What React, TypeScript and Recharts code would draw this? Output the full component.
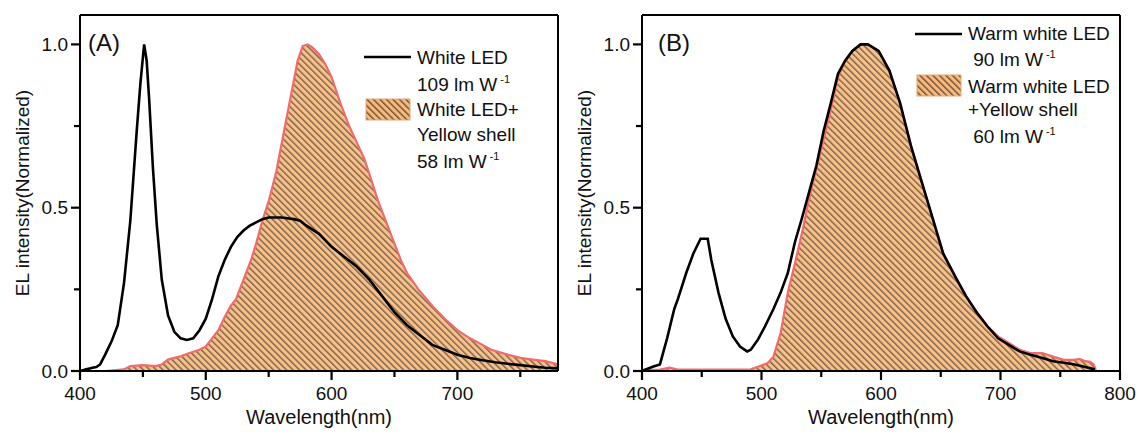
import React from 'react'
import { ComposedChart, Line, Area, XAxis, YAxis, ReferenceLine } from 'recharts'

const FONT = '"Liberation Sans", Arial, Helvetica, sans-serif'

// (A) white LED
const aLedX = [400, 405, 410, 413, 416, 420, 425, 430, 435, 440, 445, 448, 451, 453, 455, 458, 461, 465, 470, 475, 480, 485, 490, 495, 500, 505, 510, 515, 520, 525, 530, 535, 540, 545, 550, 560, 570, 575, 580, 590, 600, 610, 620, 630, 640, 650, 660, 670, 680, 690, 700, 710, 720, 730, 740, 750, 760, 770, 780]
const aLedY = [0, 0.005, 0.01, 0.012, 0.02, 0.05, 0.09, 0.14, 0.27, 0.46, 0.73, 0.88, 1.0, 0.95, 0.83, 0.62, 0.45, 0.28, 0.17, 0.12, 0.1, 0.095, 0.1, 0.125, 0.16, 0.22, 0.29, 0.34, 0.38, 0.41, 0.43, 0.445, 0.455, 0.465, 0.47, 0.47, 0.465, 0.46, 0.445, 0.42, 0.38, 0.35, 0.32, 0.28, 0.23, 0.18, 0.14, 0.11, 0.08, 0.065, 0.05, 0.04, 0.033, 0.027, 0.022, 0.018, 0.014, 0.01, 0.008]
// (A) white LED + yellow shell
const aShellX = [400, 420, 435, 440, 450, 460, 465, 470, 475, 480, 487, 495, 500, 505, 510, 515, 520, 524, 530, 536, 540, 545, 550, 556, 562, 568, 573, 577, 581, 585, 590, 595, 600, 607, 614, 620, 626, 632, 637, 643, 649, 655, 660, 669, 680, 690, 700, 710, 720, 727, 740, 750, 760, 770, 780]
const aShellY = [0, 0, 0.005, 0.015, 0.018, 0.015, 0.02, 0.035, 0.04, 0.045, 0.055, 0.065, 0.075, 0.1, 0.125, 0.165, 0.2, 0.22, 0.28, 0.34, 0.39, 0.46, 0.52, 0.61, 0.73, 0.85, 0.95, 0.995, 1.0, 0.99, 0.97, 0.94, 0.9, 0.82, 0.75, 0.7, 0.65, 0.58, 0.52, 0.46, 0.4, 0.34, 0.3, 0.25, 0.2, 0.16, 0.125, 0.1, 0.08, 0.065, 0.05, 0.04, 0.035, 0.03, 0.02]

// (B) warm white LED
const bLedX = [400, 409, 415, 421, 427, 430, 437, 443, 449, 455, 458, 464, 470, 476, 482, 488, 491, 497, 503, 510, 516, 522, 528, 534, 540, 546, 552, 558, 564, 570, 576, 583, 589, 598, 607, 616, 625, 634, 643, 652, 662, 671, 680, 689, 698, 707, 716, 725, 735, 744, 753, 762, 771, 779]
const bLedY = [0, 0.013, 0.02, 0.1, 0.19, 0.22, 0.3, 0.36, 0.405, 0.405, 0.34, 0.24, 0.16, 0.106, 0.075, 0.06, 0.065, 0.096, 0.137, 0.19, 0.24, 0.3, 0.395, 0.47, 0.55, 0.63, 0.735, 0.82, 0.91, 0.95, 0.98, 1.0, 1.0, 0.98, 0.92, 0.82, 0.69, 0.58, 0.47, 0.36, 0.29, 0.23, 0.18, 0.137, 0.1, 0.08, 0.06, 0.05, 0.04, 0.03, 0.025, 0.02, 0.012, 0.005]
// (B) warm white LED + yellow shell
const bShellX = [400, 415, 423, 430, 450, 470, 491, 497, 505, 510, 516, 522, 528, 534, 540, 546, 552, 558, 564, 570, 576, 583, 589, 598, 607, 616, 625, 634, 643, 652, 662, 671, 680, 689, 698, 707, 716, 725, 735, 744, 753, 762, 766, 771, 775, 778, 780]
const bShellY = [0.003, 0.004, 0.01, 0.004, 0.004, 0.004, 0.005, 0.013, 0.024, 0.044, 0.116, 0.24, 0.33, 0.425, 0.53, 0.62, 0.71, 0.8, 0.9, 0.95, 0.98, 1.0, 1.0, 0.98, 0.92, 0.82, 0.69, 0.58, 0.47, 0.36, 0.29, 0.23, 0.18, 0.137, 0.106, 0.086, 0.065, 0.055, 0.055, 0.044, 0.034, 0.034, 0.037, 0.03, 0.028, 0.02, 0]

const xTicksA = [400, 450, 500, 550, 600, 650, 700, 750]
const xTicksB = [400, 450, 500, 550, 600, 650, 700, 750, 800]
const yTicks = [0, 0.25, 0.5, 0.75, 1.0]
const Y_MAX = 1.09

const legendA = ['White LED', '109 lm W^-1', 'White LED+', 'Yellow shell', '58 lm W^-1']
const legendB = ['Warm white LED', ' 90 lm W^-1', 'Warm white LED', '+Yellow shell', ' 60 lm W^-1']

const PLOT_TOP = 15
const PLOT_BOTTOM = 371

const toPoints = (xs: number[], ys: number[]) => xs.map((x, i) => ({ x, y: ys[i] }))

// major ticks (hundreds) get a label and a longer mark
function XTick(props: any) {
  const { x, payload, axisY } = props
  const v = payload.value
  const major = v % 100 === 0
  return (
    <g>
      <line x1={x} x2={x} y1={axisY} y2={axisY + (major ? 9 : 6)} stroke="#000" strokeWidth={2.2} />
      {major && (
        <text x={x} y={axisY + 29} textAnchor="middle" fontSize={19} fontFamily={FONT} fill="#111">
          {v}
        </text>
      )}
    </g>
  )
}

function YTick(props: any) {
  const { y, payload, axisX } = props
  const v = payload.value
  const major = Math.abs(v * 2 - Math.round(v * 2)) < 1e-6
  return (
    <g>
      <line x1={axisX - (major ? 9 : 6)} x2={axisX} y1={y} y2={y} stroke="#000" strokeWidth={2.2} />
      {major && (
        <text x={axisX - 12} y={y} dy="0.35em" textAnchor="end" fontSize={19} fontFamily={FONT} fill="#111">
          {v.toFixed(1)}
        </text>
      )}
    </g>
  )
}

function LegendLine({ text, left, cy }: { text: string; left: number; cy: number }) {
  const [main, sup] = text.split('^')
  return (
    <div
      style={{
        position: 'absolute',
        left,
        top: cy - 11,
        height: 22,
        lineHeight: '22px',
        fontSize: 19,
        fontFamily: FONT,
        color: '#111',
        whiteSpace: 'pre',
      }}
    >
      {main}
      {sup && <span style={{ fontSize: 11, position: 'relative', top: -8, marginLeft: 3 }}>{sup}</span>}
    </div>
  )
}

type PanelProps = {
  id: string
  left: number
  width: number
  axisWidth: number
  marginRight: number
  xMax: number
  xTicks: number[]
  led: { x: number; y: number }[]
  shell: { x: number; y: number }[]
  tag: string
  legend: string[]
  legendX: number
  legendY: number[]
  lineY: number
  swatchY: number
}

function Panel(p: PanelProps) {
  const yTitle = (lp: any) => {
    const vb = lp.viewBox
    const cx = vb.x + p.axisWidth - 58
    const cy = vb.y + vb.height / 2
    return (
      <text x={cx} y={cy} transform={`rotate(-90 ${cx} ${cy})`} textAnchor="middle" dy="0.35em" fontSize={19} fontFamily={FONT} fill="#111">
        EL intensity(Normalized)
      </text>
    )
  }
  const xTitle = (lp: any) => {
    const vb = lp.viewBox
    return (
      <text x={vb.x + vb.width / 2} y={vb.y + 53} textAnchor="middle" fontSize={20} fontFamily={FONT} fill="#111">
        Wavelength(nm)
      </text>
    )
  }
  return (
    <div style={{ position: 'absolute', left: p.left, top: 0, width: p.width, height: 435 }}>
      <ComposedChart width={p.width} height={435} margin={{ top: PLOT_TOP, right: p.marginRight, bottom: 0, left: 0 }}>
        <defs>
          <pattern id={`hatch${p.id}`} patternUnits="userSpaceOnUse" width={4.6} height={4.6} patternTransform="rotate(-45)">
            <rect width={4.6} height={4.6} fill="#F9BB7C" />
            <rect width={1.5} height={4.6} fill="#73553A" />
          </pattern>
        </defs>
        <XAxis
          type="number"
          dataKey="x"
          domain={[400, p.xMax]}
          allowDataOverflow
          ticks={p.xTicks}
          interval={0}
          height={435 - PLOT_BOTTOM}
          tickLine={false}
          tick={<XTick axisY={PLOT_BOTTOM} />}
          axisLine={{ stroke: '#000', strokeWidth: 2 }}
          label={xTitle}
        />
        <YAxis
          type="number"
          domain={[0, Y_MAX]}
          allowDataOverflow
          ticks={yTicks}
          interval={0}
          width={p.axisWidth}
          tickLine={false}
          tick={<YTick axisX={p.axisWidth} />}
          axisLine={{ stroke: '#000', strokeWidth: 2 }}
          label={yTitle}
        />
        <ReferenceLine y={Y_MAX} stroke="#000" strokeWidth={2} />
        <ReferenceLine x={p.xMax} stroke="#000" strokeWidth={2} />
        <Line
          data={p.led}
          dataKey="y"
          type="linear"
          stroke="#000"
          strokeWidth={2.6}
          dot={false}
          isAnimationActive={false}
        />
        <Area
          data={p.shell}
          dataKey="y"
          type="linear"
          baseValue={0}
          stroke="#F06C6C"
          strokeWidth={2.2}
          fill={`url(#hatch${p.id})`}
          fillOpacity={0.9}
          isAnimationActive={false}
        />
      </ComposedChart>

      <div style={{ position: 'absolute', left: 88, top: 28, fontSize: 24, fontFamily: FONT, lineHeight: '30px', color: '#111' }}>
        {p.tag}
      </div>

      <svg style={{ position: 'absolute', left: p.legendX - 53, top: 0, overflow: 'visible' }} width={50} height={130}>
        <line x1={0} x2={47} y1={p.lineY} y2={p.lineY} stroke="#000" strokeWidth={2.6} />
        <rect x={2} y={p.swatchY} width={44} height={21} fill={`url(#hatch${p.id})`} stroke="#E3A874" strokeWidth={1} />
      </svg>
      {p.legend.map((t, i) => (
        <LegendLine key={i} text={t} left={p.legendX} cy={p.legendY[i]} />
      ))}
    </div>
  )
}

export default function App() {
  return (
    <div style={{ position: 'absolute', left: 0, top: 0, width: 1139, height: 435, background: '#fff', overflow: 'hidden' }}>
      <Panel
        id="A"
        left={0}
        width={570}
        axisWidth={80}
        marginRight={12}
        xMax={780}
        xTicks={xTicksA}
        led={toPoints(aLedX, aLedY)}
        shell={toPoints(aShellX, aShellY)}
        tag="(A)"
        legend={legendA}
        legendX={417}
        legendY={[58, 85, 110, 135, 162]}
        lineY={57}
        swatchY={99}
      />
      <Panel
        id="B"
        left={570}
        width={569}
        axisWidth={72}
        marginRight={19}
        xMax={800}
        xTicks={xTicksB}
        led={toPoints(bLedX, bLedY)}
        shell={toPoints(bShellX, bShellY)}
        tag="(B)"
        legend={legendB}
        legendX={398}
        legendY={[34, 60, 87, 110, 137]}
        lineY={34}
        swatchY={75}
      />
    </div>
  )
}
